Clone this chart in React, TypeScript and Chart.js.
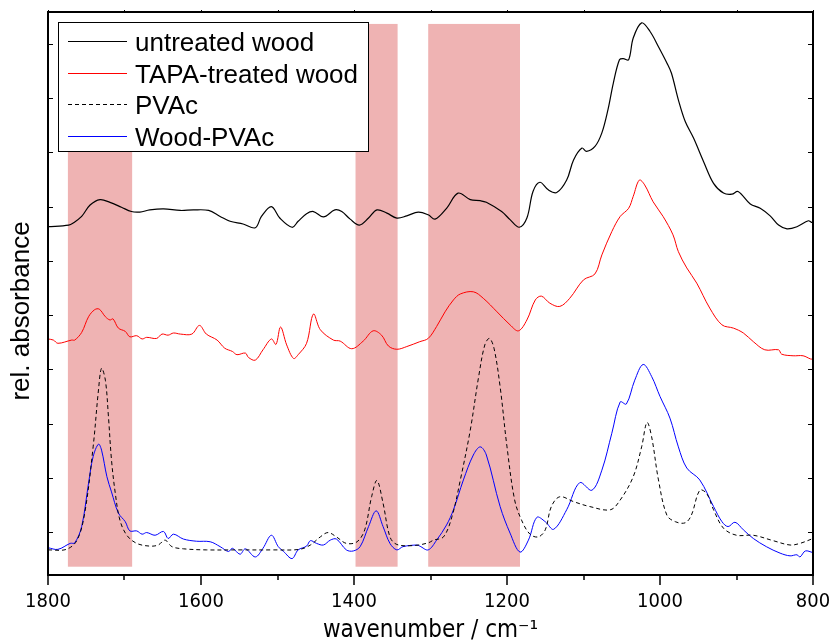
import { useEffect, useRef } from "react";
import { Chart, registerables } from "chart.js";

Chart.register(...registerables);

// ---------- data (wavenumber in cm^-1, relative absorbance with offsets) ----------
const untreatedWn = [1800, 1773, 1767, 1756, 1745, 1732, 1719, 1704, 1691, 1680, 1667, 1649, 1627, 1610, 1590, 1575, 1562, 1545, 1529, 1521, 1508, 1497, 1481, 1473, 1462, 1453, 1440, 1425, 1416, 1405, 1393, 1381, 1370, 1357, 1344, 1331, 1316, 1303, 1294, 1279, 1264, 1248, 1235, 1227, 1207, 1196, 1184, 1174, 1166, 1157, 1146, 1135, 1122, 1113, 1102, 1096, 1085, 1076, 1068, 1061, 1053, 1048, 1041, 1035, 1024, 1013, 1002, 991, 985, 976, 967, 956, 943, 930, 917, 906, 898, 882, 869, 856, 845, 834, 821, 806, 802, 800];
const untreatedAbs = [5.63, 5.66, 5.70, 5.82, 6.03, 6.13, 6.08, 5.99, 5.91, 5.90, 5.94, 5.96, 5.93, 5.94, 5.93, 5.82, 5.73, 5.68, 5.61, 5.82, 6.00, 5.79, 5.62, 5.73, 5.87, 5.91, 5.81, 5.94, 5.91, 5.77, 5.66, 5.79, 5.94, 5.88, 5.79, 5.83, 5.90, 5.85, 5.77, 5.97, 6.25, 6.13, 6.11, 6.08, 5.91, 5.76, 5.62, 5.79, 6.28, 6.45, 6.31, 6.26, 6.49, 6.86, 7.08, 7.02, 7.11, 7.36, 7.79, 8.28, 8.71, 8.73, 8.71, 9.11, 9.39, 9.23, 8.95, 8.65, 8.46, 7.97, 7.57, 7.26, 6.83, 6.43, 6.25, 6.23, 6.28, 6.05, 5.97, 5.83, 5.66, 5.59, 5.63, 5.74, 5.71, 5.71];

const tapaWn = [1800, 1793, 1787, 1769, 1765, 1756, 1747, 1739, 1733, 1725, 1719, 1715, 1708, 1699, 1693, 1684, 1677, 1671, 1658, 1651, 1643, 1636, 1627, 1612, 1602, 1593, 1579, 1569, 1559, 1553, 1542, 1538, 1529, 1519, 1508, 1502, 1496, 1488, 1479, 1473, 1462, 1453, 1444, 1427, 1418, 1403, 1388, 1375, 1364, 1355, 1344, 1331, 1314, 1303, 1292, 1281, 1270, 1261, 1244, 1231, 1213, 1196, 1185, 1174, 1163, 1155, 1144, 1131, 1118, 1100, 1085, 1076, 1063, 1052, 1041, 1035, 1027, 1020, 1009, 996, 983, 976, 965, 952, 935, 919, 904, 891, 878, 863, 845, 841, 826, 813, 803, 800];
const tapaAbs = [3.56, 3.54, 3.48, 3.54, 3.54, 3.68, 3.97, 4.10, 4.11, 3.97, 3.91, 3.93, 3.76, 3.70, 3.60, 3.62, 3.56, 3.59, 3.57, 3.65, 3.63, 3.67, 3.65, 3.65, 3.81, 3.65, 3.54, 3.39, 3.33, 3.27, 3.30, 3.22, 3.17, 3.36, 3.56, 3.46, 3.78, 3.45, 3.20, 3.27, 3.48, 4.02, 3.73, 3.54, 3.52, 3.38, 3.52, 3.71, 3.63, 3.43, 3.37, 3.42, 3.51, 3.57, 3.79, 4.06, 4.28, 4.39, 4.43, 4.31, 4.06, 3.82, 3.71, 3.91, 4.28, 4.35, 4.22, 4.16, 4.31, 4.65, 4.76, 5.11, 5.54, 5.82, 5.97, 6.19, 6.49, 6.40, 6.09, 5.82, 5.48, 5.17, 4.87, 4.59, 4.13, 3.82, 3.76, 3.67, 3.51, 3.36, 3.36, 3.28, 3.25, 3.25, 3.19, 3.19];

const pvacWn = [1800, 1776, 1762, 1752, 1741, 1734, 1730, 1725, 1721, 1717, 1712, 1706, 1697, 1684, 1667, 1656, 1647, 1638, 1623, 1593, 1549, 1505, 1471, 1457, 1444, 1434, 1423, 1410, 1396, 1386, 1377, 1370, 1362, 1353, 1344, 1322, 1303, 1296, 1283, 1272, 1261, 1248, 1237, 1229, 1223, 1217, 1209, 1200, 1190, 1181, 1170, 1159, 1150, 1142, 1131, 1113, 1092, 1065, 1052, 1035, 1024, 1017, 1011, 1002, 991, 980, 967, 959, 948, 939, 930, 917, 900, 878, 852, 830, 817, 800];
const pvacAbs = [-0.33, -0.32, -0.15, 0.35, 1.57, 2.62, 3.02, 2.80, 2.13, 1.33, 0.71, 0.22, -0.06, -0.21, -0.26, -0.24, -0.15, -0.27, -0.31, -0.33, -0.33, -0.33, -0.32, -0.24, -0.09, -0.01, -0.09, -0.21, -0.18, 0.04, 0.65, 0.95, 0.53, -0.09, -0.23, -0.25, -0.20, -0.15, -0.09, 0.28, 0.96, 1.88, 2.87, 3.45, 3.57, 3.39, 2.68, 1.57, 0.59, 0.22, -0.04, -0.09, 0.04, 0.47, 0.65, 0.56, 0.47, 0.41, 0.59, 1.02, 1.57, 2.02, 1.76, 0.96, 0.31, 0.19, 0.17, 0.31, 0.77, 0.71, 0.41, 0.07, -0.06, -0.06, -0.16, -0.24, -0.21, -0.12];

const woodPvacWn = [1800, 1787, 1771, 1765, 1756, 1747, 1741, 1734, 1730, 1723, 1717, 1708, 1699, 1693, 1684, 1677, 1671, 1660, 1649, 1643, 1636, 1623, 1606, 1588, 1575, 1564, 1559, 1549, 1542, 1529, 1519, 1508, 1499, 1492, 1481, 1473, 1462, 1457, 1449, 1440, 1431, 1423, 1410, 1401, 1392, 1381, 1371, 1362, 1353, 1344, 1336, 1318, 1314, 1303, 1292, 1279, 1270, 1257, 1244, 1235, 1227, 1209, 1196, 1183, 1172, 1161, 1150, 1139, 1122, 1105, 1089, 1076, 1063, 1052, 1044, 1033, 1022, 1011, 1000, 987, 976, 965, 948, 930, 919, 911, 902, 891, 878, 861, 843, 830, 821, 817, 810, 800];
const woodPvacAbs = [-0.29, -0.32, -0.21, -0.20, 0.10, 0.90, 1.39, 1.62, 1.51, 1.02, 0.74, 0.35, 0.19, 0.02, 0.02, -0.04, -0.01, -0.06, 0.01, -0.12, -0.04, -0.13, -0.17, -0.18, -0.27, -0.36, -0.30, -0.41, -0.31, -0.46, -0.30, -0.06, -0.27, -0.36, -0.49, -0.33, -0.26, -0.16, -0.21, -0.24, -0.15, -0.13, -0.33, -0.35, -0.27, 0.10, 0.39, 0.10, -0.21, -0.33, -0.27, -0.24, -0.26, -0.33, -0.15, 0.13, 0.41, 0.96, 1.42, 1.57, 1.42, 0.47, -0.02, -0.37, -0.15, 0.27, 0.19, 0.05, 0.41, 0.91, 0.77, 1.14, 1.82, 2.40, 2.36, 2.80, 3.09, 2.87, 2.50, 2.10, 1.57, 1.18, 0.96, 0.47, 0.19, 0.10, 0.18, 0.04, -0.12, -0.27, -0.39, -0.44, -0.42, -0.46, -0.35, -0.38];

// highlighted regions (cm^-1)
const bandStart = [1774, 1398, 1303];
const bandEnd = [1690, 1343, 1183];
const bandTop = 9.37;
const bandBottom = -0.64;

const xMajorTicks = [1800, 1600, 1400, 1200, 1000, 800];
const xMinorTicks = [1700, 1500, 1300, 1100, 900];
const yTicks = [0, 1, 2, 3, 4, 5, 6, 7, 8, 9];

const seriesLabels = ["untreated wood", "TAPA-treated wood", "PVAc", "Wood-PVAc"];
const yAxisTitle = "rel. absorbance";
const xAxisTitle = "wavenumber / cm⁻¹";

const toPoints = (xs: number[], ys: number[]) => xs.map((x, i) => ({ x, y: ys[i] }));

const AXIS_FONT = "'DejaVu Sans Condensed', 'DejaVu Sans', sans-serif";
const LABEL_FONT = "'Liberation Sans', Arial, sans-serif";

const decorPlugin = {
  id: "decor",
  beforeDatasetsDraw(chart: any) {
    const { ctx, scales } = chart;
    const xs = scales.x;
    const ys = scales.y;
    ctx.save();
    ctx.fillStyle = "#efb3b3";
    for (let i = 0; i < bandStart.length; i++) {
      const x1 = xs.getPixelForValue(bandStart[i]);
      const x2 = xs.getPixelForValue(bandEnd[i]);
      const y1 = ys.getPixelForValue(bandTop);
      const y2 = ys.getPixelForValue(bandBottom);
      ctx.fillRect(Math.min(x1, x2), y1, Math.abs(x2 - x1), y2 - y1);
    }
    ctx.restore();
  },
  afterDatasetsDraw(chart: any) {
    const { ctx, scales, chartArea } = chart;
    const { left, right, top, bottom } = chartArea;
    const xs = scales.x;
    const ys = scales.y;
    ctx.save();
    ctx.strokeStyle = "#000";
    // ticks
    ctx.lineWidth = 1.5;
    ctx.beginPath();
    for (const v of xMajorTicks) {
      const px = Math.round(xs.getPixelForValue(v));
      ctx.moveTo(px, bottom);
      ctx.lineTo(px, bottom + 10);
    }
    for (const v of xMinorTicks) {
      const px = Math.round(xs.getPixelForValue(v));
      ctx.moveTo(px, bottom);
      ctx.lineTo(px, bottom + 5);
    }
    ctx.stroke();
    ctx.lineWidth = 1;
    ctx.beginPath();
    for (const v of [...xMajorTicks, ...xMinorTicks]) {
      const px = Math.round(xs.getPixelForValue(v)) + 0.5;
      ctx.moveTo(px, top);
      ctx.lineTo(px, top - 2);
    }
    for (const v of yTicks) {
      const py = Math.round(ys.getPixelForValue(v)) + 0.5;
      ctx.moveTo(left, py);
      ctx.lineTo(left + 5, py);
      ctx.moveTo(right, py);
      ctx.lineTo(right - 5, py);
    }
    ctx.stroke();
    // frame
    ctx.lineWidth = 2;
    ctx.strokeRect(left, top, right - left, bottom - top);

    // y axis title
    ctx.save();
    ctx.translate(22, 311);
    ctx.rotate(-Math.PI / 2);
    ctx.fillStyle = "#000";
    ctx.font = `26px ${LABEL_FONT}`;
    ctx.textAlign = "center";
    ctx.textBaseline = "middle";
    ctx.fillText(yAxisTitle, 0, 0);
    ctx.restore();

    // legend box
    const bx = 58.5, by = 22.5, bw = 310, bh = 129;
    ctx.fillStyle = "#fff";
    ctx.fillRect(bx, by, bw, bh);
    ctx.lineWidth = 1;
    ctx.strokeStyle = "#000";
    ctx.strokeRect(bx, by, bw, bh);
    const rowY = [41.5, 73.5, 104.5, 136.5];
    chart.data.datasets.forEach((ds: any, i: number) => {
      const y = rowY[i];
      ctx.save();
      ctx.strokeStyle = ds.borderColor;
      ctx.lineWidth = 1;
      ctx.setLineDash(ds.borderDash || []);
      ctx.beginPath();
      ctx.moveTo(68, y);
      ctx.lineTo(127, y);
      ctx.stroke();
      ctx.restore();
      ctx.fillStyle = "#000";
      ctx.font = `26px ${LABEL_FONT}`;
      ctx.textBaseline = "alphabetic";
      ctx.textAlign = "left";
      ctx.fillText(ds.label, 135, y + 9);
    });
    ctx.restore();
  },
};

export default function App() {
  const canvasRef = useRef<HTMLCanvasElement | null>(null);

  useEffect(() => {
    const canvas = canvasRef.current;
    if (!canvas) return;
    const common = {
      pointRadius: 0,
      fill: false,
      tension: 0.35,
    };
    const chart = new Chart(canvas, {
      type: "line",
      data: {
        datasets: [
          { ...common, label: seriesLabels[0], data: toPoints(untreatedWn, untreatedAbs), borderColor: "#000000", borderWidth: 1.2 },
          { ...common, label: seriesLabels[1], data: toPoints(tapaWn, tapaAbs), borderColor: "#ff0000", borderWidth: 1 },
          { ...common, label: seriesLabels[2], data: toPoints(pvacWn, pvacAbs), borderColor: "#000000", borderWidth: 1, borderDash: [4, 3] },
          { ...common, label: seriesLabels[3], data: toPoints(woodPvacWn, woodPvacAbs), borderColor: "#0000ff", borderWidth: 1 },
        ],
      },
      options: {
        responsive: false,
        animation: false,
        devicePixelRatio: 1,
        layout: { padding: { left: 0, right: 17, top: 12, bottom: 0 } },
        plugins: { legend: { display: false }, tooltip: { enabled: false } },
        scales: {
          x: {
            type: "linear",
            min: 800,
            max: 1800,
            reverse: true,
            position: "bottom",
            grid: { display: false, drawTicks: false },
            border: { display: false },
            ticks: {
              stepSize: 200,
              maxRotation: 0,
              autoSkip: false,
              padding: 15,
              color: "#000",
              font: { family: AXIS_FONT, size: 20 },
              callback: (v: any) => String(v),
            },
            title: {
              display: true,
              text: xAxisTitle,
              color: "#000",
              font: { family: AXIS_FONT, size: 24, lineHeight: 1 },
              padding: { top: 0, bottom: 1 },
            },
            afterFit: (s: any) => {
              s.height = 69;
              s.paddingLeft = 0;
              s.paddingRight = 0;
            },
          },
          y: {
            type: "linear",
            min: -0.793,
            max: 9.59,
            grid: { display: false, drawTicks: false },
            border: { display: false },
            ticks: { display: false, stepSize: 1 },
            title: { display: false },
            afterFit: (s: any) => {
              s.width = 48;
              s.paddingTop = 0;
              s.paddingBottom = 0;
            },
          },
        },
      },
      plugins: [decorPlugin],
    });
    return () => chart.destroy();
  }, []);

  return (
    <div style={{ position: "absolute", left: 0, top: 0, width: 830, height: 644, background: "#fff" }}>
      <canvas ref={canvasRef} width={830} height={644} style={{ width: 830, height: 644, display: "block" }} />
    </div>
  );
}
